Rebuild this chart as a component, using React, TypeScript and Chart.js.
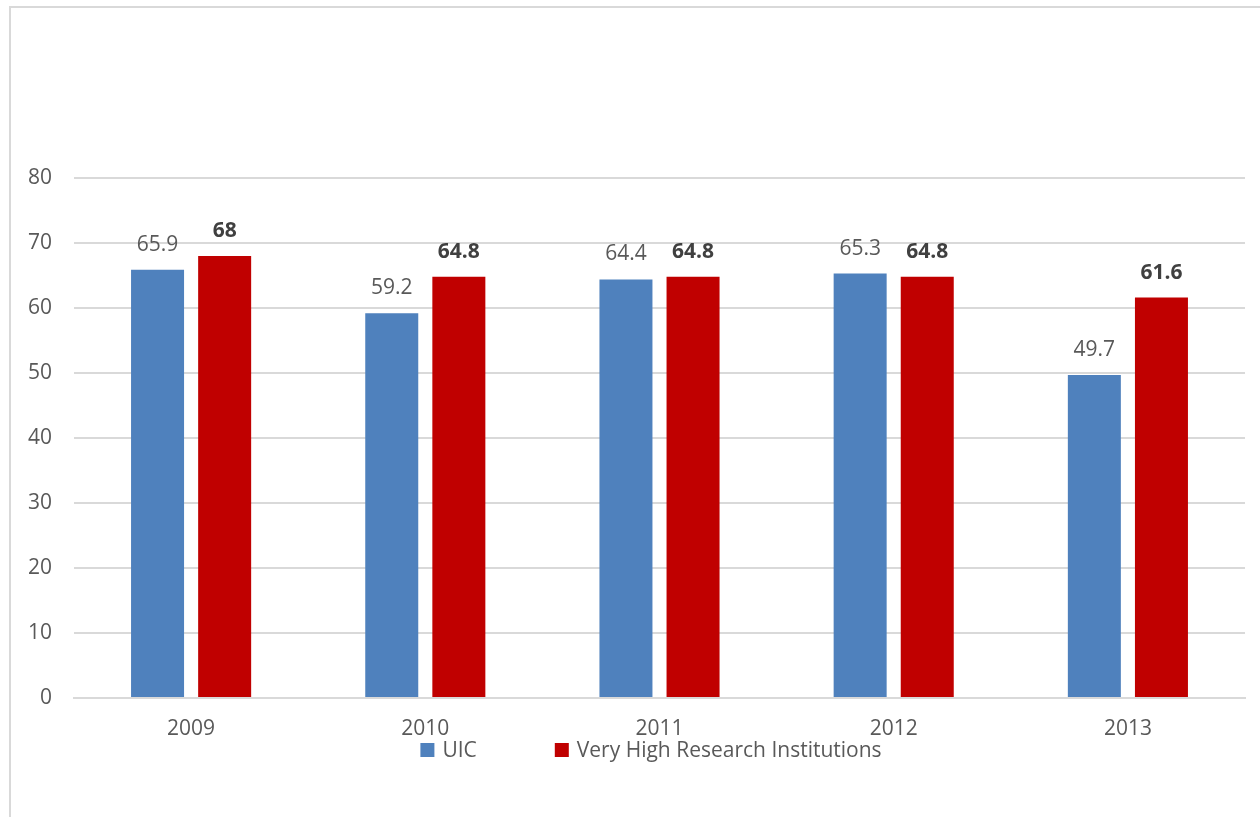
import React, { useEffect, useRef } from "react";
import { Chart, registerables } from "chart.js";

Chart.register(...registerables);

const categories = ["2009", "2010", "2011", "2012", "2013"];
const uicValues = [65.9, 59.2, 64.4, 65.3, 49.7];
const vhriValues = [68, 64.8, 64.8, 64.8, 61.6];
const seriesNames = ["UIC", "Very High Research Institutions"];
const yTicks = [0, 10, 20, 30, 40, 50, 60, 70, 80];

const BLUE = "#4F81BD";
const RED = "#C00000";
const TEXT = "#595959";
const FONT = "'Open Sans', sans-serif";

const dataLabelPlugin = {
  id: "dataLabels",
  afterDatasetsDraw(chart: any) {
    const ctx = chart.ctx;
    ctx.save();
    ctx.textAlign = "center";
    ctx.textBaseline = "middle";
    chart.data.datasets.forEach((ds: any, di: number) => {
      const meta = chart.getDatasetMeta(di);
      meta.data.forEach((bar: any, i: number) => {
        const v = ds.data[i];
        if (di === 1) {
          ctx.font = `bold 21px ${FONT}`;
          ctx.fillStyle = "#404040";
        } else {
          ctx.font = `21px ${FONT}`;
          ctx.fillStyle = TEXT;
        }
        ctx.fillText(String(v), bar.x, bar.y - 25);
      });
    });
    ctx.restore();
  },
};

const legendPlugin = {
  id: "customLegend",
  afterDraw(chart: any) {
    const ctx = chart.ctx;
    ctx.save();
    ctx.font = `21px ${FONT}`;
    ctx.textBaseline = "middle";
    ctx.textAlign = "left";
    const box = 14;
    const gap = 8;
    const spacing = 78;
    const colors = [BLUE, RED];
    const widths = seriesNames.map((n) => ctx.measureText(n).width);
    const total = widths.reduce((a, w) => a + box + gap + w, 0) + spacing;
    let x = 651 - total / 2;
    const y = 750;
    seriesNames.forEach((n, i) => {
      ctx.fillStyle = colors[i];
      ctx.fillRect(x, y - box / 2, box, box);
      x += box + gap;
      ctx.fillStyle = TEXT;
      ctx.fillText(n, x, y + 1);
      x += widths[i] + spacing;
    });
    ctx.restore();
  },
};

export default function App() {
  const ref = useRef<HTMLCanvasElement>(null);
  useEffect(() => {
    const chart = new Chart(ref.current!, {
      type: "bar",
      data: {
        labels: categories,
        datasets: [
          {
            label: seriesNames[0],
            data: uicValues,
            backgroundColor: BLUE,
            categoryPercentage: 0.573,
            barPercentage: 0.79,
          },
          {
            label: seriesNames[1],
            data: vhriValues,
            backgroundColor: RED,
            categoryPercentage: 0.573,
            barPercentage: 0.79,
          },
        ],
      },
      options: {
        responsive: false,
        animation: false,
        layout: { padding: { left: 20, top: 178, right: 15, bottom: 79 } },
        plugins: { legend: { display: false }, tooltip: { enabled: false } },
        scales: {
          x: {
            grid: { display: false, drawTicks: false },
            border: { display: true, color: "#d9d9d9", width: 2 },
            ticks: { color: TEXT, font: { family: FONT, size: 21 }, padding: 18 },
            afterFit: (s: any) => {
              s.height = 40;
            },
          },
          y: {
            min: 0,
            max: 80,
            afterBuildTicks: (s: any) => {
              s.ticks = yTicks.map((v) => ({ value: v }));
            },
            grid: { color: "#d9d9d9", lineWidth: 2, drawTicks: false },
            border: { display: false },
            ticks: { color: TEXT, font: { family: FONT, size: 21 }, padding: 22 },
            afterFit: (s: any) => {
              s.width = 54;
            },
          },
        },
      },
      plugins: [dataLabelPlugin, legendPlugin],
    });
    return () => chart.destroy();
  }, []);
  return (
    <div style={{ position: "fixed", left: 0, top: 0, width: 1260, height: 817, overflow: "hidden", background: "#fff" }}>
      <div
        style={{
          position: "absolute",
          left: 9,
          top: 6,
          width: 1400,
          height: 1000,
          border: "2px solid #d9d9d9",
        }}
      />
      <canvas ref={ref} width={1260} height={817} style={{ position: "absolute", left: 0, top: 0 }} />
    </div>
  );
}
